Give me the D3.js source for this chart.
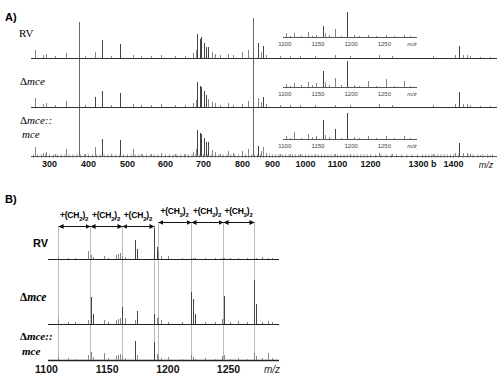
<!DOCTYPE html>
<html>
<head>
<meta charset="utf-8">
<script src="https://cdn.jsdelivr.net/npm/d3@7"></script>
<style>
  body { margin: 0; background: #fff; }
  svg { display: block; }
  .sans { font-family: "Liberation Sans", Arial, sans-serif; }
  .serif { font-family: "Liberation Serif", "Times New Roman", serif; }
</style>
</head>
<body>
<svg id="fig" width="500" height="386"></svg>
<script>
// ---- panel A: full spectra (m/z and relative intensity) ----
var mzA = [265, 285, 292, 316, 344, 393, 419, 437, 458, 481, 515, 536, 562, 590, 626, 652,
  673, 681, 683, 691, 696, 702, 707, 714, 722, 730, 743, 764, 777, 800, 820, 853, 863, 870,
  880, 924, 955, 985, 1031, 1094, 1139, 1217, 1242, 1334, 1404, 1412, 1420, 1429, 1435, 1455, 1476];
var rvA = [8, 3, 4, 2, 5, 2, 6, 18, 2, 14, 3, 2, 2, 3, 2, 2,
  5, 8, 24, 19, 21, 15, 11, 11, 6, 4, 3, 4, 3, 6, 8, 15, 6, 12,
  3, 2, 2, 2, 2, 3, 2, 3, 2, 2, 3, 12, 3, 3, 2, 1, 1];
var dmceA = [9, 3, 4, 2, 6, 2, 10, 16, 2, 14, 3, 2, 2, 3, 2, 2,
  4, 7, 25, 21, 20, 16, 12, 8, 5, 4, 2, 4, 2, 3, 6, 9, 5, 10,
  3, 2, 2, 2, 2, 2, 2, 3, 2, 2, 3, 15, 3, 3, 2, 1, 1];
var compA = [9, 3, 4, 2, 7, 2, 9, 17, 2, 16, 7, 2, 2, 3, 2, 2,
  4, 7, 26, 23, 22, 18, 14, 14, 6, 4, 2, 5, 3, 5, 7, 10, 5, 9,
  3, 2, 2, 2, 2, 2, 2, 3, 2, 2, 3, 13, 3, 3, 2, 1, 1];
var guideA = [378, 837];          // off-scale peaks drawn through all three traces
var guideTopA = [36, 40];         // their height above the RV trace
var ticksA = [300, 400, 500, 600, 700, 800, 900, 1000, 1100, 1200, 1300, 1400];

// ---- panel A insets: m/z 1100-1300 ----
var mzInset = [1102, 1108, 1115, 1125, 1135, 1142, 1147, 1159, 1161, 1168, 1176, 1185, 1195,
  1205, 1213, 1226, 1238, 1253, 1265, 1280, 1290];
var rvInset = [4, 1, 4, 1, 5, 1, 2, 11, 4, 2, 8, 1, 25, 2, 1, 2, 1, 2, 1, 2, 1];
var dmceInset = [3, 1, 4, 2, 5, 2, 4, 16, 5, 2, 9, 2, 26, 2, 1, 6, 1, 8, 1, 6, 1];
var compInset = [3, 1, 7, 1, 5, 2, 3, 19, 4, 2, 10, 1, 26, 2, 1, 3, 1, 3, 1, 3, 1];
var ticksInset = [1100, 1150, 1200, 1250];

// ---- panel B: m/z 1100-1290 ----
var mzB = [1110, 1118, 1124, 1134.5, 1137, 1139, 1148, 1151, 1157.5, 1159.5, 1161, 1163, 1165,
  1173.5, 1175, 1189, 1191.5, 1192.5, 1195, 1200.5, 1212, 1219.5, 1221, 1223, 1231, 1239, 1245,
  1247, 1251.5, 1258, 1265.5, 1271.5, 1273, 1278, 1283, 1286];
var rvB = [2, 1, 1, 8, 4, 2, 3, 1, 4, 5, 6, 3, 2,
  19, 10, 31, 12, 8, 3, 3, 1, 1, 1, 1, 1, 1, 1,
  1, 1, 1, 1, 1, 1, 2, 1, 1];
var dmceB = [5, 2, 2, 4, 27, 10, 4, 2, 4, 5, 6, 17, 6,
  4, 13, 10, 6, 7, 4, 2, 2, 32, 25, 10, 2, 2, 5,
  28, 2, 3, 2, 44, 20, 2, 3, 2];
var compB = [3, 2, 1, 5, 8, 3, 7, 2, 4, 5, 6, 4, 2,
  19, 5, 18, 6, 4, 2, 3, 1, 5, 3, 1, 2, 1, 4,
  5, 1, 2, 1, 7, 4, 2, 7, 2];
var guideB = [1110, 1136.3, 1162.6, 1189, 1192.3, 1219.5, 1245.9, 1271.4];
var stepsB = [[0, 1], [1, 2], [2, 3], [4, 5], [5, 6], [6, 7]];   // +(CH2)2 spacings
var ticksB = [1100, 1150, 1200, 1250];

var svg = d3.select("#fig");

// scales
var xA = d3.scaleLinear()
    .domain([255, 300, 400, 500, 600, 700, 800, 900, 1000, 1100, 1200, 1300, 1400, 1490])
    .range([31, 49, 88, 127, 165, 203, 242, 272, 305, 337, 370, 422, 453, 497]);
var xIn = d3.scaleLinear().domain([1098, 1300]).range([283, 417]);
var xB = d3.scaleLinear().domain([1101.5, 1292]).range([47.8, 279]);
var yH = d3.scaleLinear().domain([0, 50]).range([0, 50]);
var fmt = d3.format("d");

function px(v) { return Math.round(v) + 0.5; }

function drawPeaks(g, x, mz, h, base, colour) {
    g.selectAll(null)
        .data(mz)
        .enter()
        .append("line")
        .attr("x1", function (d) { return px(x(d)); })
        .attr("x2", function (d) { return px(x(d)); })
        .attr("y1", base)
        .attr("y2", function (d, i) { return base - yH(h[i]); })
        .attr("stroke", function (d, i) { return h[i] > 9 ? "#444" : colour; })
        .attr("stroke-width", 1);
}

function baseline(g, x0, x1, y, colour, w) {
    g.append("line")
        .attr("x1", x0).attr("x2", x1)
        .attr("y1", y + 0.5).attr("y2", y + 0.5)
        .attr("stroke", colour).attr("stroke-width", w || 1);
}

// ===================== Panel A =====================
var gA = svg.append("g");

gA.append("text").attr("class", "sans").attr("x", 5).attr("y", 21)
    .attr("font-size", 11).attr("font-weight", "bold").text("A)");

var rowsA = [
    { h: rvA, base: 58, ins: rvInset, insBase: 37 },
    { h: dmceA, base: 107, ins: dmceInset, insBase: 87 },
    { h: compA, base: 156, ins: compInset, insBase: 139 }
];

// guide lines of the tall peaks
gA.selectAll(null)
    .data(guideA)
    .enter()
    .append("line")
    .attr("x1", function (d) { return px(xA(d)); })
    .attr("x2", function (d) { return px(xA(d)); })
    .attr("y1", 156)
    .attr("y2", function (d, i) { return 58 - yH(guideTopA[i]); })
    .attr("stroke", "#666");

// minor ticks on the bottom axis
gA.append("g")
    .attr("transform", "translate(0,154)")
    .call(d3.axisBottom(xA).tickValues(d3.range(260, 1490, 10)).tickSize(4).tickFormat(""))
    .call(function (g) {
        g.select(".domain").remove();
        g.selectAll(".tick line").attr("stroke", "#aaa");
    });

rowsA.forEach(function (r, k) {
    baseline(gA, 31, 497, r.base, k === 2 ? "#555" : "#333");
    drawPeaks(gA, xA, mzA, r.h, r.base, "#888");

    // inset
    baseline(gA, 283, 417, r.insBase, "#555");
    drawPeaks(gA, xIn, mzInset, r.ins, r.insBase, "#888");
    gA.append("g")
        .attr("transform", "translate(0," + r.insBase + ")")
        .call(d3.axisBottom(xIn).tickValues(ticksInset).tickSize(0).tickPadding(4.5).tickFormat(fmt))
        .call(function (g) {
            g.select(".domain").remove();
            g.selectAll("text").attr("class", "sans").attr("font-size", 6)
                .attr("fill", "#444").attr("font-family", null);
        });
    gA.append("text").attr("class", "sans").attr("x", 412).attr("y", r.insBase + 8.5)
        .attr("font-size", 6).attr("font-style", "italic").attr("fill", "#444")
        .attr("text-anchor", "middle").text("m/z");
});

// bottom axis labels
gA.append("g")
    .attr("transform", "translate(0,156)")
    .call(d3.axisBottom(xA).tickValues(ticksA).tickSize(0).tickPadding(5)
        .tickFormat(function (d) { return d === 1300 ? "1300 b" : fmt(d); }))
    .call(function (g) {
        g.select(".domain").remove();
        g.selectAll("text").attr("class", "sans").attr("font-family", null)
            .attr("font-size", 9).attr("font-weight", "bold").attr("fill", "#111");
    });
gA.append("text").attr("class", "sans").attr("x", 486).attr("y", 168)
    .attr("font-size", 9).attr("font-style", "italic").attr("fill", "#222")
    .attr("text-anchor", "middle").text("m/z");

// row labels
gA.append("text").attr("class", "serif").attr("x", 19).attr("y", 37)
    .attr("font-size", 11).text("RV");
function deltaLabel(g, x, y, txt, size, bold) {
    var t = g.append("text").attr("class", "serif").attr("x", x).attr("y", y)
        .attr("font-size", size).attr("font-weight", bold ? "bold" : null);
    t.append("tspan").text("\u0394");
    t.append("tspan").attr("font-style", "italic").text(txt);
}
deltaLabel(gA, 20, 85, "mce", 11, false);
deltaLabel(gA, 20, 124, "mce::", 11, false);
gA.append("text").attr("class", "serif").attr("x", 22).attr("y", 138)
    .attr("font-size", 11).attr("font-style", "italic").text("mce");

// ===================== Panel B =====================
var gB = svg.append("g");

gB.append("text").attr("class", "sans").attr("x", 5).attr("y", 203)
    .attr("font-size", 11).attr("font-weight", "bold").text("B)");

var arrowY = [226, 226, 226, 222, 222, 222];

svg.append("defs").append("marker")
    .attr("id", "head")
    .attr("viewBox", "0 0 6 6")
    .attr("refX", 6).attr("refY", 3)
    .attr("markerWidth", 5).attr("markerHeight", 5)
    .attr("markerUnits", "userSpaceOnUse")
    .attr("orient", "auto-start-reverse")
    .append("path").attr("d", "M0,0 L6,3 L0,6 Z").attr("fill", "#111");

// guide lines
gB.selectAll(null)
    .data(guideB)
    .enter()
    .append("line")
    .attr("x1", function (d) { return px(xB(d)); })
    .attr("x2", function (d) { return px(xB(d)); })
    .attr("y1", function (d, i) { return i < 4 ? 226 : 222; })
    .attr("y2", 360)
    .attr("stroke", "#bbb");

// arrows and labels
stepsB.forEach(function (s, k) {
    var x0 = xB(guideB[s[0]]), x1 = xB(guideB[s[1]]);
    var y = arrowY[k] + 0.5;
    gB.append("line")
        .attr("x1", x0 + 0.5).attr("x2", x1 + 0.5)
        .attr("y1", y).attr("y2", y)
        .attr("stroke", "#111").attr("stroke-width", 1)
        .attr("marker-start", "url(#head)")
        .attr("marker-end", "url(#head)");
    var t = gB.append("text").attr("class", "sans")
        .attr("x", (x0 + x1) / 2).attr("y", arrowY[k] - 8)
        .attr("font-size", 8.5).attr("font-weight", "bold").attr("text-anchor", "middle")
        .attr("letter-spacing", -0.2);
    t.append("tspan").text("+(CH");
    t.append("tspan").attr("font-size", 6).attr("dy", 2.5).text("2");
    t.append("tspan").attr("dy", -2.5).text(")");
    t.append("tspan").attr("font-size", 6).attr("dy", 2.5).text("2");
});

var rowsB = [
    { h: rvB, base: 259 },
    { h: dmceB, base: 324 },
    { h: compB, base: 360 }
];
rowsB.forEach(function (r, k) {
    baseline(gB, 48, 279, r.base, "#222", k === 2 ? 1.5 : 1);
    drawPeaks(gB, xB, mzB, r.h, r.base, "#888");
});

gB.append("g")
    .attr("transform", "translate(0,360)")
    .call(d3.axisBottom(xB).tickValues(ticksB).tickSize(0).tickPadding(5.5).tickFormat(fmt))
    .call(function (g) {
        g.select(".domain").remove();
        g.selectAll("text").attr("class", "sans").attr("font-family", null)
            .attr("font-size", 10.5).attr("font-weight", "bold").attr("fill", "#111");
    });
gB.append("text").attr("class", "sans").attr("x", 264).attr("y", 373)
    .attr("font-size", 10).attr("font-style", "italic").attr("fill", "#222").text("m/z");

gB.append("text").attr("class", "sans").attr("x", 33).attr("y", 247)
    .attr("font-size", 11).attr("font-weight", "bold").text("RV");
deltaLabel(gB, 20, 301, "mce", 11.5, true);
deltaLabel(gB, 20, 340, "mce::", 11, true);
gB.append("text").attr("class", "serif").attr("x", 22).attr("y", 355)
    .attr("font-size", 11).attr("font-weight", "bold").attr("font-style", "italic").text("mce");
</script>
</body>
</html>
